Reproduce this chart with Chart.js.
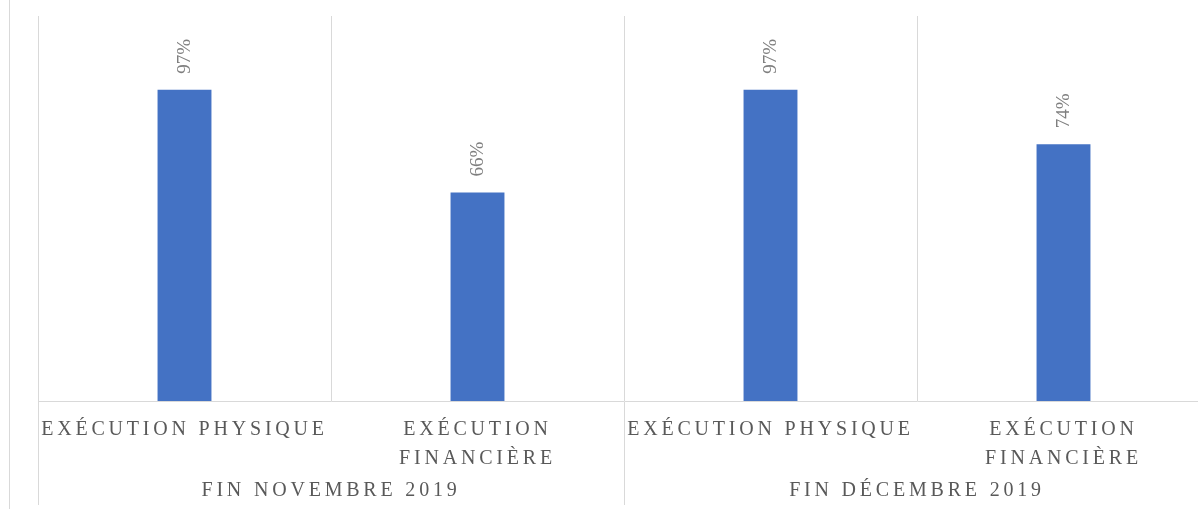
<!DOCTYPE html>
<html>
<head>
<meta charset="utf-8">
<script src="https://cdn.jsdelivr.net/npm/chart.js@4.4.1/dist/chart.umd.min.js"></script>
<style>
    html, body { margin: 0; padding: 0; background: #fff; overflow: hidden; }
    #wrap { position: relative; width: 1198px; height: 509px; overflow: hidden; }
    #edge { position: absolute; left: 9px; top: 0; width: 0; height: 509px; border-left: 1px solid #d9d9d9; }
    canvas { position: absolute; left: 0; top: 0; }
</style>
</head>
<body>
<div id="wrap">
    <div id="edge"></div>
    <canvas id="barChart" width="1212" height="509"></canvas>
</div>
<script>
// Sub categories (two per period) and period groups
const categories = [["EXÉCUTION PHYSIQUE"], ["EXÉCUTION", "FINANCIÈRE"], ["EXÉCUTION PHYSIQUE"], ["EXÉCUTION", "FINANCIÈRE"]];
const periods = ["FIN NOVEMBRE 2019", "FIN DÉCEMBRE 2019"];

const values = [97, 65, 97, 80];
const valueLabels = ["97%", "66%", "97%", "74%"];

const serif = '"Liberation Serif", "Times New Roman", serif';
const gridColor = '#d9d9d9';

// wide letter spacing for axis texts
const spacingPlugin = {
    id: 'spacing',
    beforeDraw(chart) {
        chart.ctx.letterSpacing = '3.8px';
    }
};

// rotated value labels above each bar
const valueLabelPlugin = {
    id: 'valueLabels',
    afterDatasetsDraw(chart) {
        const ctx = chart.ctx;
        const meta = chart.getDatasetMeta(0);
        ctx.save();
        ctx.letterSpacing = '0px';
        ctx.font = '19px ' + serif;
        ctx.fillStyle = '#7f7f7f';
        ctx.textAlign = 'left';
        ctx.textBaseline = 'middle';
        meta.data.forEach((bar, i) => {
            ctx.save();
            ctx.translate(bar.x + 1, bar.y - 16);
            ctx.rotate(-Math.PI / 2);
            ctx.fillText(valueLabels[i], 0, 0);
            ctx.restore();
        });
        ctx.restore();
    }
};

const ctx = document.getElementById('barChart').getContext('2d');

new Chart(ctx, {
    type: 'bar',
    data: {
        labels: categories,
        datasets: [{
            data: values,
            backgroundColor: '#4472c4',
            borderWidth: 0,
            barPercentage: 0.184,
            categoryPercentage: 1
        }]
    },
    options: {
        responsive: false,
        animation: false,
        devicePixelRatio: 1,
        layout: {
            padding: { left: 38, right: 2, top: 16, bottom: 7 }
        },
        plugins: {
            legend: { display: false },
            tooltip: { enabled: false }
        },
        scales: {
            x: {
                position: 'bottom',
                offset: true,
                weight: 1,
                grid: {
                    offset: true,
                    color: gridColor,
                    lineWidth: 1,
                    tickLength: 104,
                    // only the period boundaries run down through the labels
                    tickColor: c => (c.index === undefined || c.index % 2 === 0) ? gridColor : 'rgba(0,0,0,0)'
                },
                border: { display: true, color: gridColor },
                ticks: {
                    color: '#595959',
                    font: { family: serif, size: 20, lineHeight: 1.45 },
                    padding: -90,
                    maxRotation: 0,
                    autoSkip: false
                },
                afterFit: s => { s.height = 72; }
            },
            x2: {
                type: 'category',
                position: 'bottom',
                weight: 2,
                labels: periods,
                offset: true,
                grid: { display: false, drawTicks: false, tickLength: 0 },
                border: { display: false },
                ticks: {
                    color: '#595959',
                    font: { family: serif, size: 20, lineHeight: 1.1 },
                    padding: 7,
                    maxRotation: 0,
                    autoSkip: false
                },
                afterFit: s => { s.height = 29; }
            },
            y: {
                display: false,
                min: 0,
                max: 120
            }
        }
    },
    plugins: [spacingPlugin, valueLabelPlugin]
});
</script>
</body>
</html>
